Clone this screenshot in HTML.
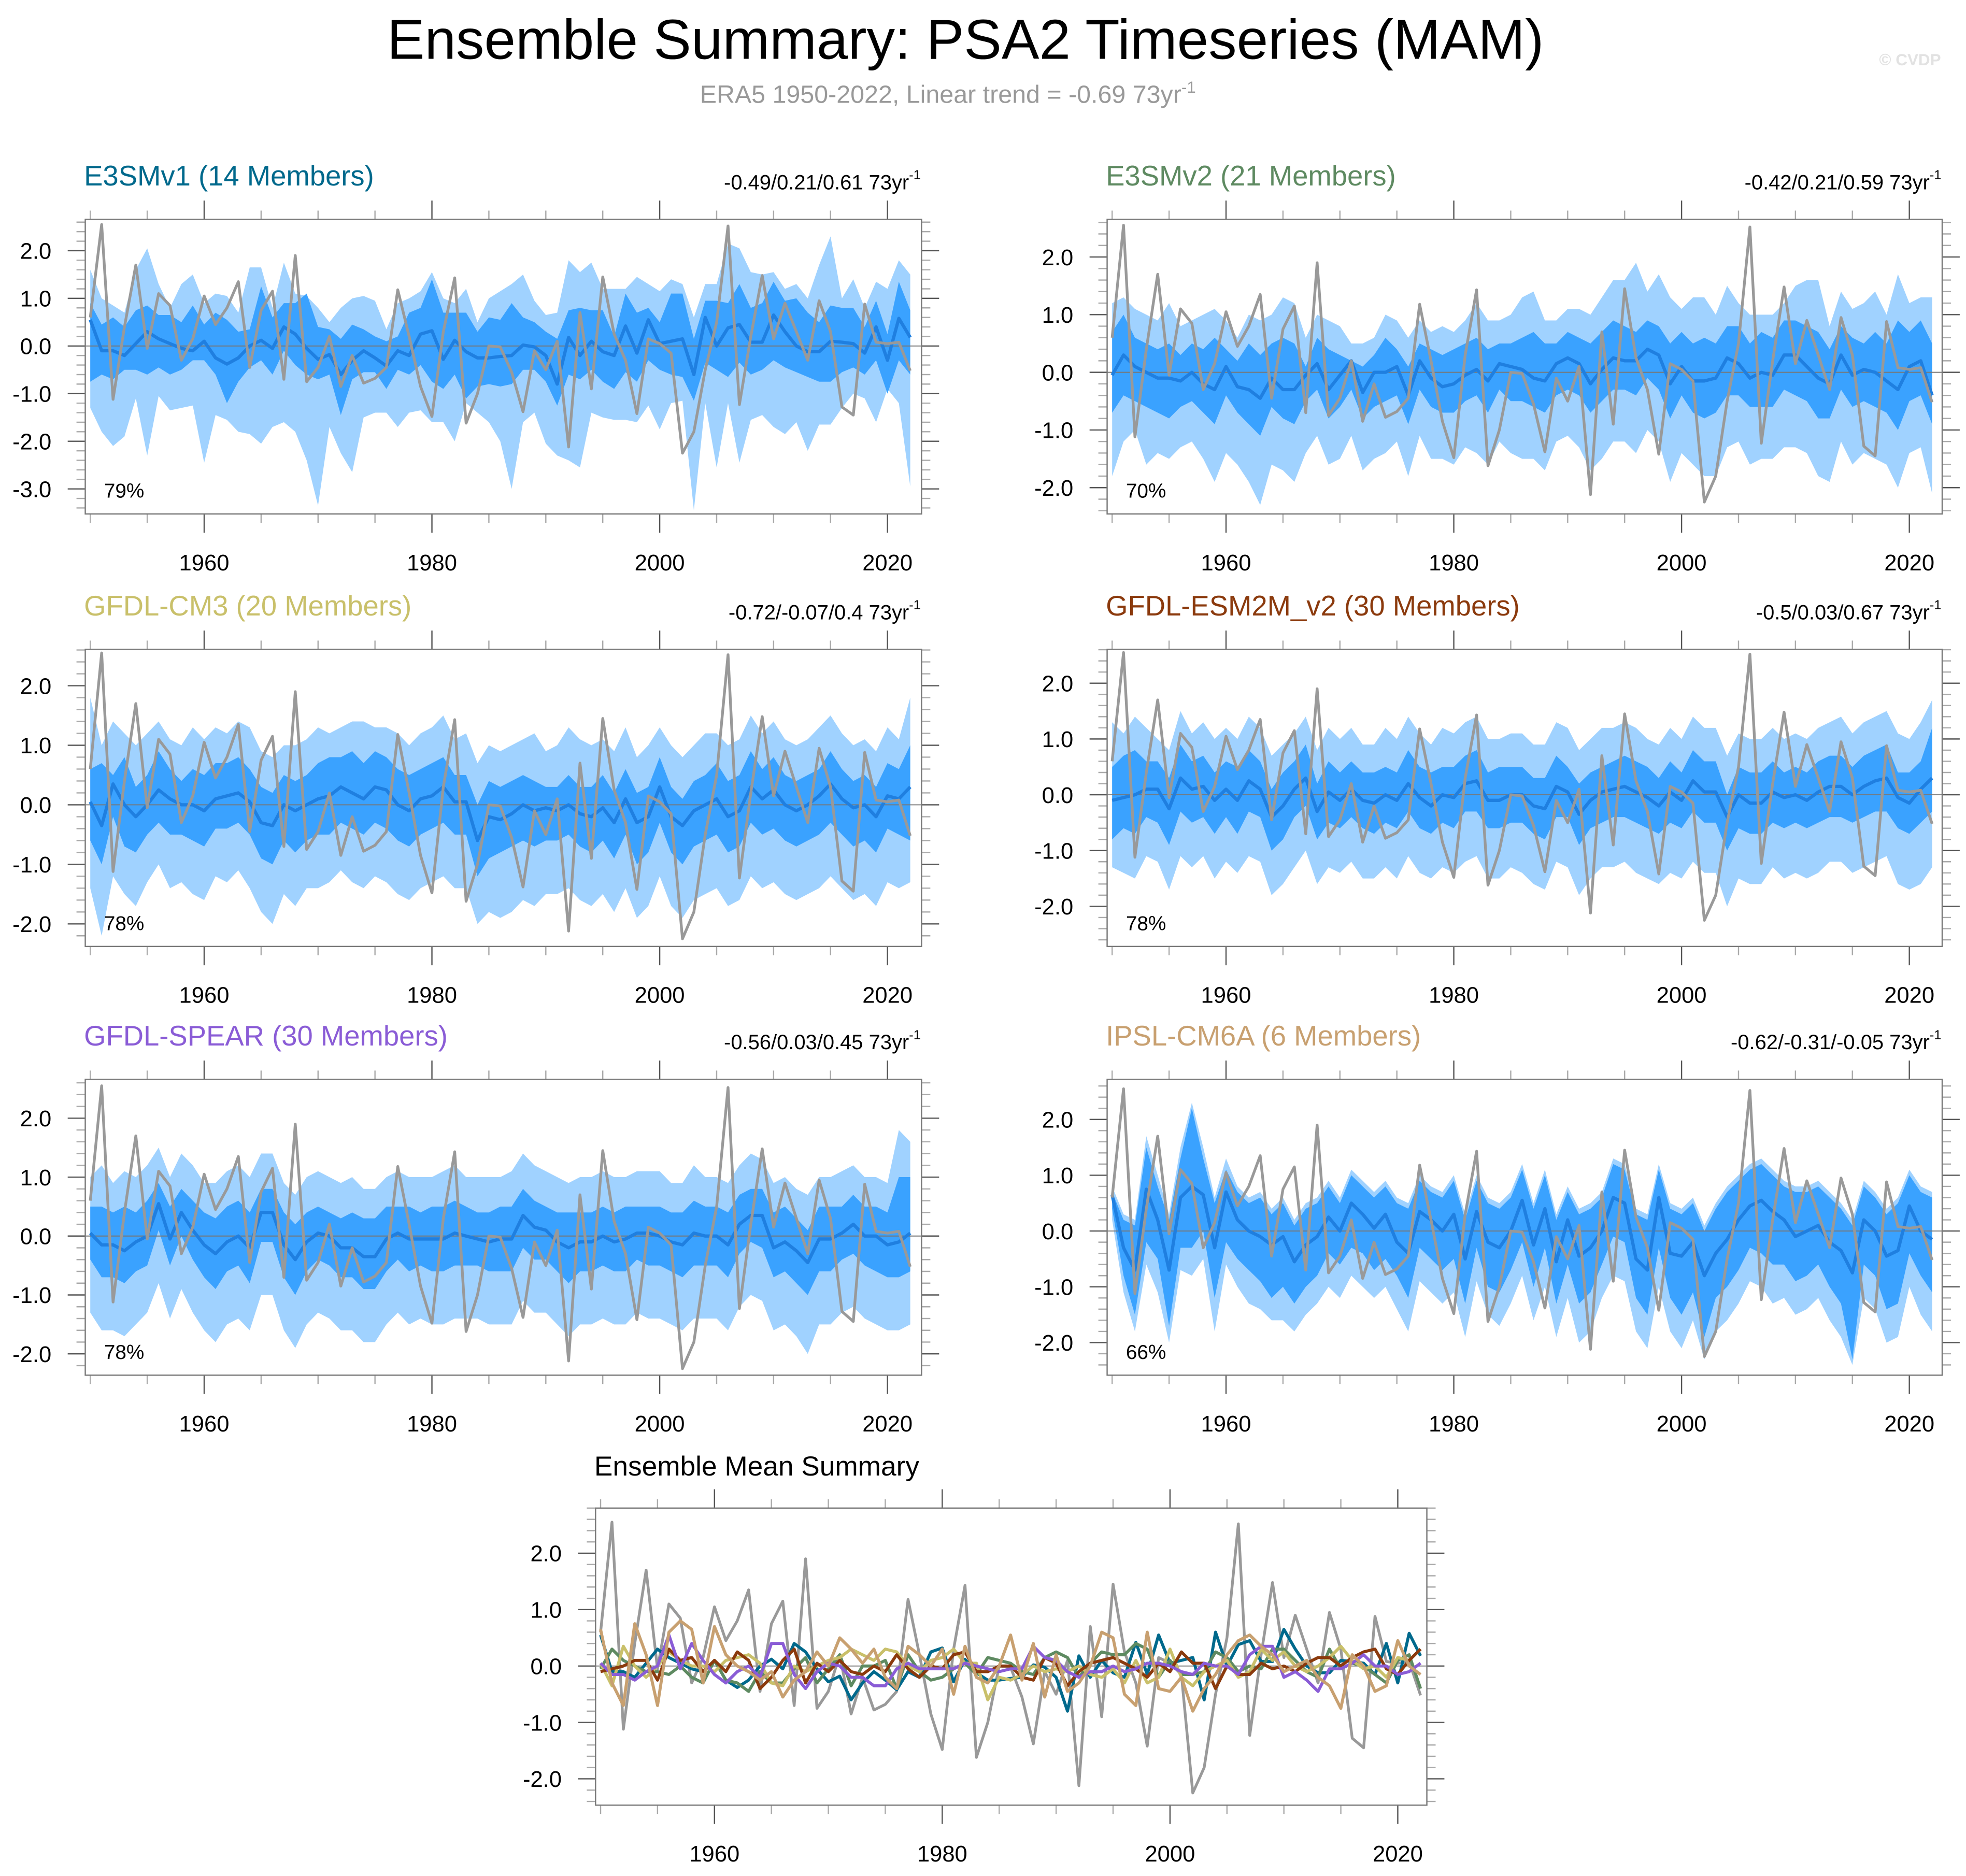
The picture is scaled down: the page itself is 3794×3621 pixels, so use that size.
<!DOCTYPE html>
<html><head><meta charset="utf-8">
<style>
html,body{margin:0;padding:0;background:#fff;}
svg{display:block;font-family:"Liberation Sans",Arial,sans-serif;}
</style></head>
<body>
<svg id="chart" width="3794" height="3621" viewBox="0 0 1568 1496.5" preserveAspectRatio="none" xmlns="http://www.w3.org/2000/svg">
<rect x="0" y="0" width="1568" height="1497" fill="#fff"/>
<text x="770" y="47" font-size="45" text-anchor="middle" fill="#000">Ensemble Summary: PSA2 Timeseries (MAM)</text>
<text x="756" y="82" font-size="20" text-anchor="middle" fill="#999">ERA5 1950-2022, Linear trend = -0.69 73yr<tspan dy="-8" font-size="13">-1</tspan></text>
<text x="1548" y="52" font-size="13" font-weight="bold" text-anchor="end" fill="#e2e2e2">© CVDP</text>
<g id="plots"></g>
</svg>
<script>
const years = [];
for (let y = 1950; y <= 2022; y++) years.push(y);

const obsERA5 = [0.6,2.55,-1.12,0.4,1.7,-0.05,1.1,0.85,-0.3,0.15,1.05,0.45,0.8,1.35,-0.45,0.75,1.15,-0.7,1.9,-0.75,-0.45,0.2,-0.85,-0.2,-0.78,-0.68,-0.45,1.18,0.2,-0.85,-1.48,0.3,1.43,-1.62,-1.0,0.0,-0.02,-0.55,-1.38,-0.1,-0.5,0.1,-2.12,0.7,-0.9,1.45,0.25,-0.3,-1.42,0.15,0.05,-0.15,-2.25,-1.8,-0.5,0.5,2.52,-1.23,0.2,1.48,0.15,0.9,0.3,-0.3,0.95,0.3,-1.28,-1.45,0.88,0.08,0.05,0.08,-0.52];

const meanE3SMv1 = [0.55,-0.1,-0.1,-0.2,0.05,0.3,0.15,0.05,-0.05,-0.1,0.1,-0.25,-0.38,-0.25,0.0,0.12,-0.05,0.4,0.25,-0.05,-0.28,-0.18,-0.6,-0.3,-0.1,-0.25,-0.42,-0.1,-0.2,0.25,0.32,-0.28,0.12,-0.12,-0.25,-0.25,-0.22,-0.2,0.02,-0.02,-0.2,-0.8,0.18,-0.2,0.1,-0.12,-0.2,0.42,-0.15,0.55,0.05,0.1,0.15,-0.6,0.6,0.0,0.38,0.45,0.08,0.08,0.65,0.3,0.0,-0.12,-0.12,0.1,0.08,0.05,-0.15,0.4,-0.3,0.58,0.18];
const p90E3SMv1 = [1.6,1.0,0.85,0.7,1.6,2.05,1.3,0.8,1.3,1.5,0.9,1.1,1.05,0.7,1.65,1.65,0.8,1.75,1.1,1.05,0.8,0.5,0.8,1.0,1.05,0.95,0.35,0.9,1.0,1.15,1.55,1.0,0.9,1.2,0.5,1.0,1.15,1.3,1.5,0.95,0.65,0.7,1.8,1.55,1.75,1.2,1.2,1.2,1.45,1.3,1.15,1.4,1.3,0.6,1.3,1.3,2.15,2.05,1.55,1.5,1.55,1.2,1.3,1.0,1.7,2.3,1.0,1.4,0.8,1.35,1.2,1.8,1.5];
const p75E3SMv1 = [0.9,0.45,0.6,0.4,0.75,0.85,0.65,0.65,0.5,0.85,0.45,0.7,0.55,0.3,0.35,1.25,0.6,0.9,0.9,1.1,0.4,0.35,0.15,0.45,0.35,0.2,0.1,0.2,0.7,0.8,1.4,0.7,0.7,0.7,0.3,0.6,0.55,0.9,0.6,0.5,0.3,0.15,0.75,0.8,0.75,0.75,0.2,1.1,0.7,0.8,0.5,1.1,1.1,0.15,0.95,0.95,0.9,1.3,0.8,0.9,1.35,0.95,1.0,0.7,0.5,0.85,0.8,0.8,0.4,0.95,0.25,1.35,0.75];
const p25E3SMv1 = [-0.75,-0.6,-0.7,-0.5,-0.5,-0.6,-0.45,-0.6,-0.5,-0.3,-0.3,-0.6,-1.2,-0.75,-0.45,-0.3,-0.6,-0.1,-0.4,-0.6,-0.7,-0.6,-1.45,-0.7,-0.55,-0.55,-0.9,-0.5,-0.6,-0.4,-0.75,-0.9,-0.6,-1.1,-0.85,-0.8,-0.85,-0.8,-0.5,-0.5,-0.75,-1.25,-0.6,-0.7,-0.5,-0.75,-0.9,-0.55,-0.75,-0.3,-0.5,-0.6,-0.65,-1.15,-0.35,-0.5,-0.65,-0.35,-0.6,-0.5,-0.3,-0.45,-0.55,-0.65,-0.75,-0.75,-0.55,-0.45,-0.6,-0.3,-1.0,-0.3,-0.6];
const p10E3SMv1 = [-1.3,-1.8,-2.1,-1.9,-1.1,-2.3,-1.05,-1.35,-1.3,-1.25,-2.45,-1.45,-1.55,-1.8,-1.85,-2.05,-1.7,-1.6,-1.8,-2.4,-3.35,-1.7,-2.25,-2.65,-1.5,-1.4,-1.4,-1.7,-1.4,-1.35,-1.6,-1.6,-2.0,-1.2,-1.4,-1.6,-2.0,-3.0,-1.6,-1.4,-2.05,-2.3,-2.4,-2.55,-1.4,-1.5,-1.55,-1.55,-1.6,-1.25,-1.75,-1.2,-1.15,-3.45,-1.2,-2.55,-1.2,-2.45,-1.55,-1.45,-1.7,-1.85,-1.6,-2.2,-1.65,-1.65,-1.3,-1.0,-1.1,-1.6,-0.9,-1.2,-2.95];

const meanE3SMv2 = [-0.05,0.3,0.1,0.0,-0.1,-0.1,-0.15,0.0,-0.2,-0.3,0.1,-0.25,-0.3,-0.45,-0.1,-0.3,-0.3,-0.05,0.15,-0.3,-0.05,0.2,-0.35,0.0,0.0,0.1,-0.4,0.2,-0.1,-0.25,-0.2,-0.05,0.05,-0.15,0.15,0.1,0.05,-0.1,-0.15,0.15,0.25,0.15,-0.2,0.05,0.25,0.2,0.2,0.4,0.3,-0.2,0.1,-0.15,-0.15,-0.1,0.25,0.15,-0.1,0.0,-0.05,0.3,0.3,0.1,-0.1,-0.2,0.3,-0.05,0.05,0.0,-0.15,-0.3,0.1,0.2,-0.4];
const p90E3SMv2 = [1.2,1.3,1.1,1.0,0.9,1.2,0.8,0.9,1.0,1.1,0.9,0.6,1.0,0.9,1.0,1.3,1.2,0.6,1.0,0.9,0.8,0.5,0.5,0.6,1.0,0.9,0.6,0.9,0.7,0.8,0.7,0.9,1.2,0.9,0.9,1.0,1.3,1.4,0.9,0.9,1.1,1.1,1.0,1.3,1.6,1.6,1.9,1.4,1.7,1.3,1.1,1.3,1.3,1.0,1.5,1.2,1.0,1.0,1.0,1.2,1.5,1.6,1.6,0.8,1.4,1.1,1.2,1.4,1.0,1.7,1.2,1.3,1.3];
const p75E3SMv2 = [0.7,1.0,0.6,0.5,0.4,0.5,0.3,0.5,0.4,0.6,0.4,0.2,0.5,0.3,0.5,0.6,0.5,0.1,0.6,0.4,0.3,0.2,0.1,0.3,0.6,0.4,0.1,0.5,0.4,0.3,0.4,0.5,0.6,0.4,0.5,0.5,0.6,0.7,0.5,0.5,0.7,0.6,0.5,0.7,0.9,0.8,0.7,0.9,0.8,0.5,0.7,0.5,0.6,0.5,0.8,0.8,0.5,0.7,0.6,0.9,0.9,0.8,0.7,0.4,0.8,0.6,0.5,0.7,0.5,0.9,0.7,0.9,0.5];
const p25E3SMv2 = [-0.7,-0.4,-0.5,-0.6,-0.7,-0.8,-0.6,-0.5,-0.7,-0.9,-0.4,-0.7,-0.9,-1.1,-0.6,-0.8,-0.9,-0.5,-0.3,-0.8,-0.6,-0.3,-0.8,-0.6,-0.5,-0.4,-0.9,-0.3,-0.6,-0.7,-0.7,-0.5,-0.4,-0.7,-0.3,-0.5,-0.5,-0.6,-0.7,-0.4,-0.3,-0.4,-0.7,-0.5,-0.3,-0.3,-0.4,-0.1,-0.3,-0.8,-0.4,-0.7,-0.8,-0.7,-0.4,-0.4,-0.6,-0.6,-0.6,-0.3,-0.4,-0.5,-0.8,-0.8,-0.3,-0.6,-0.5,-0.6,-0.7,-1.0,-0.5,-0.4,-0.9];
const p10E3SMv2 = [-1.8,-1.2,-1.0,-1.6,-1.4,-1.5,-1.3,-1.2,-1.5,-1.9,-1.4,-1.6,-1.9,-2.3,-1.6,-1.7,-1.9,-1.4,-1.1,-1.6,-1.5,-1.1,-1.7,-1.5,-1.4,-1.2,-1.8,-1.1,-1.5,-1.5,-1.6,-1.3,-1.4,-1.6,-1.2,-1.4,-1.5,-1.5,-1.7,-1.2,-1.1,-1.3,-1.7,-1.5,-1.2,-1.2,-1.4,-1.0,-1.2,-1.9,-1.4,-1.6,-1.8,-1.8,-1.3,-1.2,-1.6,-1.5,-1.5,-1.3,-1.3,-1.4,-1.8,-1.9,-1.2,-1.6,-1.4,-1.5,-1.6,-2.0,-1.4,-1.3,-2.1];

const meanCM3 = [0.05,-0.35,0.35,0.0,-0.2,0.0,0.25,0.1,0.0,0.0,-0.1,0.1,0.15,0.2,0.05,-0.3,-0.35,0.0,-0.1,0.0,0.1,0.15,0.3,0.2,0.1,0.3,0.25,0.0,-0.1,0.1,0.15,0.3,0.05,0.05,-0.6,-0.2,-0.25,-0.15,0.0,-0.1,-0.05,-0.1,0.0,-0.15,-0.2,-0.05,-0.3,0.1,-0.3,-0.2,0.3,-0.2,-0.35,-0.1,0.0,0.1,-0.2,-0.1,0.3,0.1,0.25,0.0,-0.1,0.0,0.15,0.35,0.1,-0.05,0.0,-0.2,0.15,0.1,0.3];
const p90CM3 = [1.8,1.0,1.4,1.2,1.0,1.2,1.4,1.1,1.0,1.3,1.1,1.3,1.2,1.4,1.3,0.9,0.8,1.0,1.0,1.1,1.3,1.2,1.3,1.4,1.4,1.3,1.3,1.2,1.0,1.2,1.3,1.5,1.1,1.2,0.7,1.0,0.9,1.0,1.1,1.2,0.9,1.0,1.3,1.1,1.0,1.1,0.9,1.3,0.8,1.0,1.3,1.0,0.8,1.0,1.2,1.2,1.0,1.1,1.5,1.2,1.4,1.1,1.0,1.1,1.3,1.5,1.2,1.0,1.1,0.9,1.3,1.1,1.8];
const p75CM3 = [0.6,0.7,0.5,0.8,0.3,0.5,0.9,0.6,0.4,0.6,0.5,0.7,0.7,0.8,0.6,0.3,0.2,0.5,0.4,0.5,0.7,0.8,0.8,0.9,0.7,0.9,0.8,0.6,0.5,0.6,0.7,0.8,0.5,0.5,0.0,0.4,0.3,0.4,0.5,0.4,0.3,0.3,0.5,0.3,0.3,0.5,0.2,0.6,0.2,0.3,0.8,0.3,0.1,0.4,0.5,0.7,0.4,0.5,0.9,0.6,0.8,0.5,0.4,0.5,0.6,0.9,0.6,0.4,0.5,0.3,0.7,0.6,1.0];
const p25CM3 = [-0.6,-1.0,-0.2,-0.7,-0.8,-0.5,-0.3,-0.5,-0.5,-0.6,-0.7,-0.4,-0.4,-0.3,-0.5,-0.9,-1.0,-0.6,-0.8,-0.6,-0.5,-0.5,-0.3,-0.4,-0.5,-0.3,-0.4,-0.6,-0.7,-0.5,-0.4,-0.3,-0.5,-0.5,-1.2,-0.9,-0.8,-0.7,-0.6,-0.7,-0.6,-0.6,-0.5,-0.7,-0.8,-0.6,-0.9,-0.5,-1.0,-0.8,-0.3,-0.8,-1.0,-0.7,-0.6,-0.5,-0.8,-0.7,-0.3,-0.5,-0.4,-0.6,-0.7,-0.6,-0.5,-0.3,-0.5,-0.7,-0.6,-0.8,-0.4,-0.5,-0.6];
const p10CM3 = [-1.4,-2.2,-1.2,-1.5,-1.7,-1.3,-1.0,-1.4,-1.3,-1.5,-1.6,-1.2,-1.3,-1.1,-1.4,-1.8,-2.0,-1.5,-1.7,-1.4,-1.4,-1.3,-1.1,-1.3,-1.4,-1.2,-1.3,-1.5,-1.6,-1.4,-1.3,-1.2,-1.4,-1.4,-2.0,-1.8,-1.9,-1.8,-1.6,-1.7,-1.5,-1.5,-1.4,-1.6,-1.7,-1.5,-1.8,-1.4,-1.9,-1.7,-1.2,-1.7,-1.9,-1.6,-1.5,-1.4,-1.7,-1.6,-1.2,-1.4,-1.3,-1.5,-1.6,-1.5,-1.4,-1.2,-1.4,-1.6,-1.5,-1.7,-1.3,-1.4,-1.3];

const meanESM2M = [-0.1,-0.05,0.0,0.1,0.1,-0.25,0.3,0.1,0.15,-0.1,0.1,-0.1,0.25,0.1,-0.4,-0.2,0.1,0.3,-0.3,0.05,-0.1,0.1,-0.1,-0.15,0.0,-0.1,0.2,-0.05,-0.2,0.0,-0.05,0.2,0.25,-0.1,-0.1,0.0,0.0,-0.2,-0.25,0.15,0.05,-0.35,-0.1,0.05,0.1,0.15,0.05,-0.05,-0.2,0.05,-0.1,0.25,0.05,0.05,-0.4,0.0,-0.15,-0.15,0.05,-0.05,0.0,-0.1,0.05,0.15,0.15,0.0,0.15,0.25,0.3,-0.05,-0.15,0.1,0.3];
const p90ESM2M = [1.3,1.1,1.4,1.2,1.0,0.8,1.5,1.1,1.3,1.0,1.2,1.0,1.4,1.2,0.7,0.9,1.1,1.4,0.8,1.2,1.0,1.2,0.9,0.9,1.2,1.0,1.4,1.1,0.9,1.2,1.1,1.3,1.4,1.0,1.0,1.1,1.1,0.9,0.9,1.3,1.2,0.8,1.0,1.2,1.2,1.3,1.2,1.0,0.9,1.2,1.0,1.4,1.2,1.2,0.7,1.1,1.0,1.0,1.2,1.0,1.1,1.0,1.2,1.3,1.4,1.1,1.3,1.4,1.5,1.1,1.0,1.3,1.7];
const p75ESM2M = [0.5,0.7,0.8,0.6,0.6,0.3,0.9,0.6,0.7,0.4,0.6,0.5,0.8,0.6,0.1,0.4,0.6,0.9,0.2,0.6,0.4,0.6,0.4,0.4,0.5,0.4,0.8,0.5,0.4,0.5,0.5,0.7,0.8,0.4,0.5,0.5,0.5,0.3,0.3,0.7,0.5,0.2,0.4,0.5,0.6,0.7,0.6,0.5,0.3,0.6,0.4,0.8,0.6,0.6,0.0,0.5,0.4,0.4,0.6,0.4,0.5,0.4,0.6,0.7,0.7,0.5,0.7,0.8,0.9,0.4,0.4,0.6,1.2];
const p25ESM2M = [-0.8,-0.6,-0.7,-0.4,-0.5,-0.9,-0.3,-0.5,-0.4,-0.7,-0.4,-0.7,-0.3,-0.4,-1.0,-0.8,-0.4,-0.2,-0.8,-0.5,-0.6,-0.4,-0.6,-0.7,-0.5,-0.6,-0.3,-0.6,-0.7,-0.5,-0.6,-0.3,-0.3,-0.6,-0.6,-0.5,-0.5,-0.7,-0.8,-0.4,-0.4,-0.9,-0.6,-0.5,-0.4,-0.4,-0.5,-0.6,-0.7,-0.5,-0.6,-0.3,-0.5,-0.5,-1.0,-0.6,-0.7,-0.7,-0.5,-0.6,-0.5,-0.6,-0.5,-0.4,-0.4,-0.5,-0.4,-0.3,-0.3,-0.6,-0.7,-0.5,-0.3];
const p10ESM2M = [-1.3,-1.4,-1.5,-1.1,-1.2,-1.7,-1.1,-1.3,-1.1,-1.5,-1.2,-1.4,-1.1,-1.2,-1.8,-1.6,-1.3,-1.0,-1.6,-1.3,-1.4,-1.2,-1.5,-1.5,-1.3,-1.5,-1.1,-1.4,-1.5,-1.3,-1.4,-1.2,-1.1,-1.5,-1.5,-1.3,-1.4,-1.6,-1.7,-1.2,-1.3,-1.8,-1.5,-1.3,-1.3,-1.2,-1.4,-1.5,-1.6,-1.4,-1.5,-1.2,-1.4,-1.4,-2.0,-1.5,-1.6,-1.6,-1.3,-1.5,-1.4,-1.5,-1.4,-1.2,-1.2,-1.4,-1.3,-1.2,-1.1,-1.6,-1.7,-1.6,-1.3];

const meanSPEAR = [0.05,-0.15,-0.15,-0.25,-0.1,0.0,0.55,-0.05,0.4,0.1,-0.15,-0.3,-0.1,0.0,-0.2,0.4,0.4,-0.15,-0.4,-0.1,0.05,0.0,-0.2,-0.2,-0.35,-0.35,-0.05,0.05,-0.05,-0.05,-0.05,-0.05,0.05,0.0,-0.05,-0.1,-0.05,-0.05,0.35,0.15,0.1,-0.1,-0.2,-0.1,-0.1,0.0,-0.1,-0.05,0.05,0.05,0.0,-0.1,-0.15,0.05,0.0,0.0,-0.15,0.2,0.35,0.35,-0.2,-0.1,-0.25,-0.45,-0.05,-0.05,0.05,0.2,0.0,0.0,-0.15,-0.1,0.05];
const p90SPEAR = [1.0,1.2,0.9,1.1,1.0,1.2,1.5,1.0,1.4,1.2,0.9,0.9,1.1,1.2,1.0,1.4,1.4,0.9,0.7,1.0,1.1,1.0,0.9,1.0,0.8,0.8,1.0,1.1,1.0,1.0,1.0,1.1,1.2,1.0,1.0,1.0,1.0,1.1,1.4,1.2,1.1,1.0,0.9,1.0,1.0,1.1,1.0,1.0,1.1,1.1,1.1,0.9,0.9,1.2,1.0,1.0,0.9,1.2,1.4,1.3,0.9,1.0,0.8,0.7,1.0,1.0,1.1,1.2,1.0,1.0,0.9,1.8,1.6];
const p75SPEAR = [0.5,0.5,0.4,0.5,0.4,0.6,0.9,0.5,0.8,0.6,0.4,0.3,0.5,0.6,0.4,0.8,0.8,0.4,0.2,0.4,0.5,0.4,0.3,0.4,0.3,0.3,0.5,0.5,0.5,0.4,0.5,0.5,0.6,0.5,0.4,0.4,0.5,0.5,0.8,0.6,0.5,0.4,0.4,0.4,0.4,0.5,0.4,0.5,0.5,0.5,0.5,0.4,0.4,0.6,0.5,0.5,0.4,0.7,0.8,0.8,0.4,0.5,0.3,0.1,0.5,0.5,0.5,0.7,0.5,0.5,0.4,1.0,1.0];
const p25SPEAR = [-0.4,-0.7,-0.7,-0.8,-0.6,-0.5,0.1,-0.5,0.0,-0.4,-0.7,-0.9,-0.6,-0.5,-0.8,-0.1,-0.1,-0.7,-1.0,-0.6,-0.4,-0.5,-0.7,-0.7,-0.9,-0.9,-0.6,-0.4,-0.6,-0.5,-0.6,-0.6,-0.5,-0.5,-0.5,-0.6,-0.6,-0.6,-0.2,-0.4,-0.4,-0.6,-0.8,-0.6,-0.6,-0.5,-0.6,-0.6,-0.4,-0.5,-0.5,-0.6,-0.7,-0.5,-0.5,-0.5,-0.7,-0.3,-0.1,-0.2,-0.7,-0.6,-0.8,-1.0,-0.6,-0.6,-0.4,-0.3,-0.5,-0.6,-0.7,-0.7,-0.6];
const p10SPEAR = [-1.3,-1.6,-1.6,-1.7,-1.5,-1.3,-0.8,-1.4,-0.9,-1.3,-1.6,-1.8,-1.5,-1.4,-1.6,-1.0,-1.0,-1.6,-1.9,-1.5,-1.3,-1.4,-1.6,-1.6,-1.8,-1.8,-1.5,-1.3,-1.5,-1.4,-1.5,-1.5,-1.4,-1.4,-1.4,-1.5,-1.5,-1.5,-1.1,-1.3,-1.3,-1.5,-1.7,-1.5,-1.5,-1.4,-1.5,-1.5,-1.3,-1.4,-1.4,-1.5,-1.6,-1.4,-1.4,-1.4,-1.6,-1.2,-1.0,-1.1,-1.6,-1.5,-1.7,-2.0,-1.5,-1.5,-1.3,-1.2,-1.4,-1.5,-1.6,-1.6,-1.5];

const meanIPSL = [0.65,-0.3,-0.7,0.75,0.2,-0.7,0.6,0.8,0.65,-0.3,0.7,0.2,0.0,-0.1,-0.25,-0.1,-0.55,-0.25,-0.1,0.25,0.0,0.5,0.3,0.05,0.3,-0.2,-0.4,0.35,0.2,0.0,0.3,-0.5,0.35,-0.2,-0.3,0.0,0.55,-0.25,0.4,-0.55,0.2,-0.45,-0.3,0.0,0.6,0.5,-0.5,-0.7,0.6,-0.4,-0.45,-0.2,-0.8,-0.4,-0.15,0.2,0.45,0.55,0.35,0.2,-0.1,0.0,0.1,-0.2,-0.35,-0.75,0.2,0.0,-0.45,-0.35,0.45,0.0,-0.15];
const p90IPSL = [0.8,0.3,0.2,1.7,1.0,0.3,1.5,2.3,1.5,0.6,1.3,0.8,0.6,0.7,0.4,0.6,0.2,0.5,0.6,0.9,0.6,1.1,0.9,0.7,0.9,0.6,0.5,1.0,0.8,0.7,1.0,0.3,1.0,0.6,0.5,0.7,1.2,0.5,1.1,0.3,0.8,0.4,0.5,0.7,1.3,1.2,0.4,0.3,1.2,0.5,0.4,0.6,0.1,0.5,0.8,1.0,1.2,1.3,1.1,0.9,0.8,0.8,0.9,0.7,0.5,0.2,0.9,0.7,0.4,0.6,1.1,0.8,0.7];
const p75IPSL = [0.7,0.2,0.1,1.5,0.8,0.2,1.3,2.2,1.3,0.5,1.1,0.7,0.5,0.6,0.3,0.5,0.1,0.4,0.5,0.8,0.5,1.0,0.8,0.6,0.8,0.5,0.4,0.9,0.7,0.6,0.9,0.2,0.9,0.5,0.4,0.6,1.1,0.4,1.0,0.2,0.7,0.3,0.4,0.6,1.2,1.1,0.3,0.2,1.1,0.4,0.3,0.5,0.0,0.4,0.7,0.9,1.1,1.2,1.0,0.8,0.7,0.7,0.8,0.6,0.4,0.1,0.8,0.6,0.3,0.5,1.0,0.7,0.6];
const p25IPSL = [0.4,-0.8,-1.5,-0.2,-0.5,-1.7,-0.3,-0.3,0.0,-1.2,-0.2,-0.5,-0.7,-0.9,-1.2,-1.0,-1.3,-1.0,-0.8,-0.4,-0.6,-0.3,-0.4,-0.7,-0.5,-0.8,-1.2,-0.3,-0.5,-0.7,-0.5,-1.3,-0.3,-1.0,-1.1,-0.7,-0.2,-1.0,-0.3,-1.3,-0.6,-1.3,-1.1,-0.6,-0.1,-0.2,-1.2,-1.5,-0.3,-1.2,-1.5,-1.1,-1.9,-1.2,-1.0,-0.7,-0.3,-0.4,-0.6,-0.6,-0.9,-0.8,-0.6,-1.0,-1.3,-2.3,-0.6,-0.8,-1.4,-1.3,-0.4,-0.8,-1.1];
const p10IPSL = [0.2,-1.1,-1.8,-0.6,-1.1,-2.0,-0.7,-0.8,-0.5,-1.8,-0.6,-1.0,-1.3,-1.4,-1.6,-1.6,-1.8,-1.5,-1.3,-1.0,-1.2,-0.8,-1.0,-1.2,-1.0,-1.4,-1.8,-0.9,-1.1,-1.3,-1.1,-1.9,-0.9,-1.5,-1.7,-1.3,-0.8,-1.6,-1.0,-1.9,-1.2,-2.0,-1.8,-1.2,-0.8,-0.9,-1.8,-2.1,-1.0,-1.8,-2.1,-1.6,-2.3,-1.8,-1.6,-1.3,-0.9,-1.0,-1.3,-1.2,-1.5,-1.4,-1.2,-1.6,-1.9,-2.4,-1.2,-1.4,-2.0,-1.9,-1.0,-1.5,-1.8];

const modelNames = ["E3SMv1 (14 Members)","E3SMv2 (21 Members)","GFDL-CM3 (20 Members)","GFDL-ESM2M_v2 (30 Members)","GFDL-SPEAR (30 Members)","IPSL-CM6A (6 Members)"];
const trendLabels = ["-0.49/0.21/0.61 73yr","-0.42/0.21/0.59 73yr","-0.72/-0.07/0.4 73yr","-0.5/0.03/0.67 73yr","-0.56/0.03/0.45 73yr","-0.62/-0.31/-0.05 73yr"];
const pctLabels = ["79%","70%","78%","78%","78%","66%"];
const xTickYears = [1960,1980,2000,2020];

const NS = "http://www.w3.org/2000/svg";
const root = document.getElementById("plots");
function mk(tag, attrs, parent) {
  const e = document.createElementNS(NS, tag);
  for (const k in attrs) e.setAttribute(k, attrs[k]);
  (parent || root).appendChild(e);
  return e;
}
const modelColors = ["#00698c","#5e8a61","#c9c06a","#8b3a0d","#8a5cd6","#c8a070"];
const panels = [
  {x0:68,x1:735,y0:175,y1:410,zero:276,ppu:38,mean:meanE3SMv1,p90:p90E3SMv1,p75:p75E3SMv1,p25:p25E3SMv1,p10:p10E3SMv1},
  {x0:883,x1:1549,y0:175,y1:410,zero:297,ppu:46,mean:meanE3SMv2,p90:p90E3SMv2,p75:p75E3SMv2,p25:p25E3SMv2,p10:p10E3SMv2},
  {x0:68,x1:735,y0:518,y1:755,zero:642,ppu:47.5,mean:meanCM3,p90:p90CM3,p75:p75CM3,p25:p25CM3,p10:p10CM3},
  {x0:883,x1:1549,y0:518,y1:755,zero:634,ppu:44.5,mean:meanESM2M,p90:p90ESM2M,p75:p75ESM2M,p25:p25ESM2M,p10:p10ESM2M},
  {x0:68,x1:735,y0:861,y1:1097,zero:986,ppu:47,mean:meanSPEAR,p90:p90SPEAR,p75:p75SPEAR,p25:p25SPEAR,p10:p10SPEAR},
  {x0:883,x1:1549,y0:861,y1:1097,zero:982,ppu:44.5,mean:meanIPSL,p90:p90IPSL,p75:p75IPSL,p25:p25IPSL,p10:p10IPSL}
];

function drawAxes(p, g, i) {
  const xs = yr => p.x0 + 4 + (yr - 1950) * 9.083;
  const ys = v => p.zero - v * p.ppu;
  const vmin = (p.zero - p.y1) / p.ppu, vmax = (p.zero - p.y0) / p.ppu;
  for (let k = Math.ceil(vmin * 5 - 1e-6); k <= Math.floor(vmax * 5 + 1e-6); k++) {
    const v = k / 5, y = ys(v), major = (k % 5 === 0), len = major ? 14 : 7;
    const c = major ? "#555" : "#aaa";
    const t1 = mk("line", {x1:p.x0-len, x2:p.x0, y1:y, y2:y, stroke:c, "stroke-width":1}, g);
    
    
    const t2 = mk("line", {x1:p.x1, x2:p.x1+len, y1:y, y2:y, stroke:c, "stroke-width":1}, g);
    
    
    if (major) {
      const lb = mk("text", {x:p.x0-27, y:y+6.5, "font-size":18, "text-anchor":"end", fill:"#000"}, g);
      lb.textContent = v.toFixed(1);
      
      
    }
  }
  for (let yr = 1950; yr <= 2020; yr += 5) {
    const x = xs(yr), major = (yr % 20 === 0), len = major ? 15 : 7;
    const c = major ? "#555" : "#aaa";
    const a = mk("line", {x1:x, x2:x, y1:p.y0-len, y2:p.y0, stroke:c, "stroke-width":1}, g);
    
    
    const b = mk("line", {x1:x, x2:x, y1:p.y1, y2:p.y1+len, stroke:c, "stroke-width":1}, g);
    
    
  }
  xTickYears.forEach(yr => {
    const lb = mk("text", {x:xs(yr), y:p.y1+45, "font-size":18, "text-anchor":"middle", fill:"#000"}, g);
    lb.textContent = yr;
    
    
  });
  const zl = mk("line", {x1:p.x0, x2:p.x1, y1:ys(0), y2:ys(0), stroke:"#777", "stroke-width":0.8}, g);
  
  
  const box = mk("rect", {x:p.x0, y:p.y0, width:p.x1-p.x0, height:p.y1-p.y0, fill:"none", stroke:"#777", "stroke-width":1}, g);
  
  
  return {xs, ys};
}
function linePath(arr, xs, ys) {
  return arr.map((v, j) => (j ? "L" : "M") + xs(years[j]).toFixed(2) + "," + ys(v).toFixed(2)).join("");
}
function bandPath(up, lo, xs, ys) {
  let d = up.map((v, j) => (j ? "L" : "M") + xs(years[j]).toFixed(2) + "," + ys(v).toFixed(2)).join("");
  for (let j = lo.length - 1; j >= 0; j--) d += "L" + xs(years[j]).toFixed(2) + "," + ys(lo[j]).toFixed(2);
  return d + "Z";
}

panels.forEach((p, i) => {
  const g = mk("g", {});
  
  
  const xs = yr => p.x0 + 4 + (yr - 1950) * 9.083;
  const ys = v => p.zero - v * p.ppu;
  const lb = mk("path", {d:bandPath(p.p90, p.p10, xs, ys), fill:"#a0d2ff"}, g);
  
  
  const db = mk("path", {d:bandPath(p.p75, p.p25, xs, ys), fill:"#3aa2ff"}, g);
  
  
  drawAxes(p, g, i);
  const ml = mk("path", {d:linePath(p.mean, xs, ys), fill:"none", stroke:"#1f7fe0", "stroke-width":2.6, "stroke-linejoin":"round"}, g);
  
  
  const ol = mk("path", {d:linePath(obsERA5, xs, ys), fill:"none", stroke:"#999", "stroke-width":2.2, "stroke-linejoin":"round"}, g);
  
  
  const t = mk("text", {x:p.x0-1, y:p.y0-27, "font-size":22.5, fill:modelColors[i]}, g);
  t.textContent = modelNames[i];
  
  
  const tr = mk("text", {x:p.x1-10, y:p.y0-24, "font-size":16.5, "text-anchor":"end", fill:"#000"}, g);
  tr.textContent = trendLabels[i];
  
  
  const sup = mk("text", {x:p.x1-10, y:p.y0-32, "font-size":10.5, fill:"#000"}, g);
  sup.textContent = "-1";
  
  
  const pc = mk("text", {x:p.x0+15, y:p.y1-13, "font-size":16, fill:"#000"}, g);
  pc.textContent = pctLabels[i];
  
  
});

(function(){
  const p = {x0:475,x1:1138,y0:1203,y1:1440,zero:1329,ppu:45};
  const g = mk("g", {});
  
  
  const ax = drawAxes(p, g, 6);
  const ol = mk("path", {d:linePath(obsERA5, ax.xs, ax.ys), fill:"none", stroke:"#999", "stroke-width":2.2, "stroke-linejoin":"round"}, g);
  
  
  panels.forEach((pp, i) => {
    const l = mk("path", {d:linePath(pp.mean, ax.xs, ax.ys), fill:"none", stroke:modelColors[i], "stroke-width":2.4, "stroke-linejoin":"round"}, g);
    
    
  });
  const t = mk("text", {x:474, y:1177, "font-size":22, fill:"#000"}, g);
  t.textContent = "Ensemble Mean Summary";
  
  
})();
</script>
</body></html>
